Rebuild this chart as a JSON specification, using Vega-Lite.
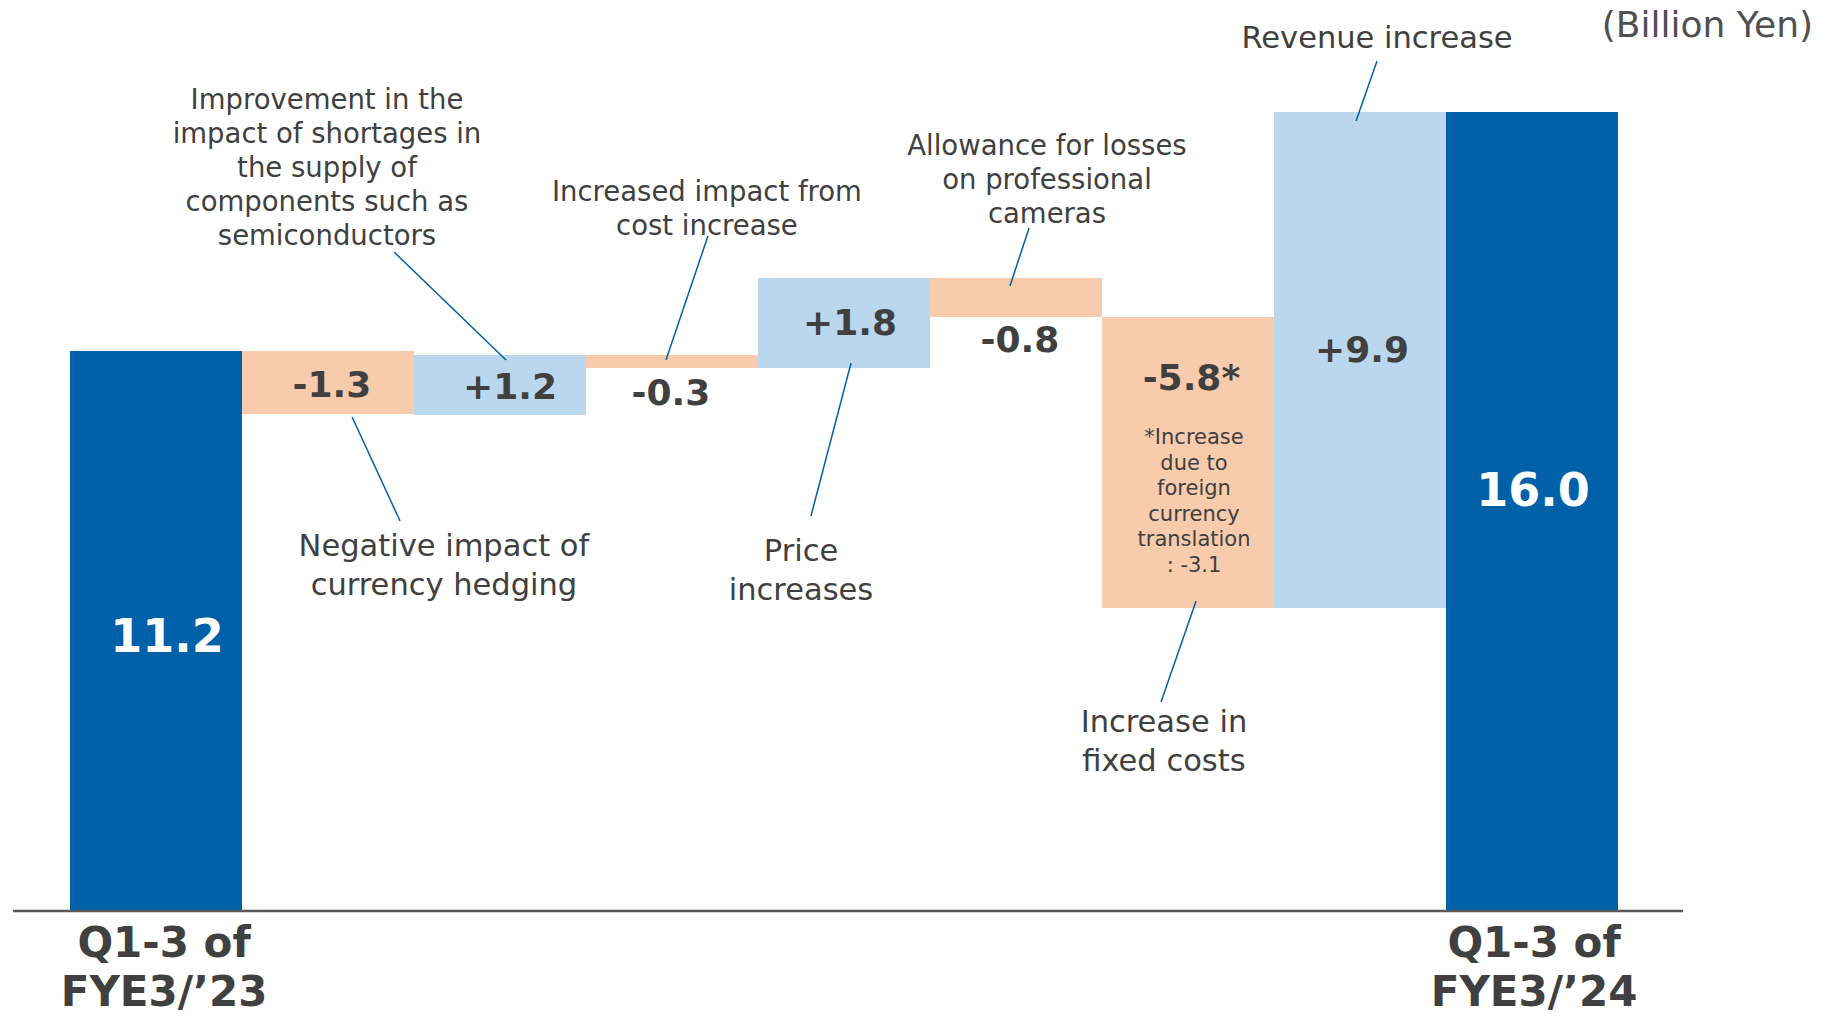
{
  "$schema": "https://vega.github.io/schema/vega-lite/v6.json",
  "width": 1832,
  "height": 1018,
  "padding": 0,
  "autosize": {"type": "none"},
  "background": "white",
  "config": {"view": {"stroke": null}, "font": "DejaVu Sans"},
  "datasets": {
    "bars": [
      {"item": "Q1-3 of FYE3/'23", "from": 0, "to": 1, "start": 0, "end": 11.2, "kind": "total"},
      {"item": "Negative impact of currency hedging", "from": 1, "to": 2, "start": 11.2, "end": 9.94, "kind": "decrease"},
      {"item": "Improvement in component shortages", "from": 2, "to": 3, "start": 9.92, "end": 11.12, "kind": "increase"},
      {"item": "Increased impact from cost increase", "from": 3, "to": 4, "start": 11.12, "end": 10.86, "kind": "decrease"},
      {"item": "Price increases", "from": 4, "to": 5, "start": 10.86, "end": 12.66, "kind": "increase"},
      {"item": "Allowance for losses on professional cameras", "from": 5, "to": 6, "start": 12.66, "end": 11.88, "kind": "decrease"},
      {"item": "Increase in fixed costs", "from": 6, "to": 7, "start": 11.88, "end": 6.06, "kind": "decrease"},
      {"item": "Revenue increase", "from": 7, "to": 8, "start": 6.06, "end": 15.98, "kind": "increase"},
      {"item": "Q1-3 of FYE3/'24", "from": 8, "to": 9, "start": 0, "end": 15.98, "kind": "total"}
    ],
    "deltas": [
      {"label": "-1.3", "px": 1.523, "py": 10.5},
      {"label": "+1.2", "px": 2.558, "py": 10.46},
      {"label": "-0.3", "px": 3.494, "py": 10.34},
      {"label": "+1.8", "px": 4.535, "py": 11.74},
      {"label": "-0.8", "px": 5.523, "py": 11.4},
      {"label": "-5.8*", "px": 6.52, "py": 10.64},
      {"label": "+9.9", "px": 7.512, "py": 11.2}
    ],
    "totals": [
      {"label": "11.2", "px": 0.564, "py": 5.46},
      {"label": "16.0", "px": 8.506, "py": 8.38}
    ],
    "notesTop": [
      {"label": "Improvement in the\nimpact of shortages in\nthe supply of\ncomponents such as\nsemiconductors", "px": 1.494, "py": 16.2},
      {"label": "Increased impact from\ncost increase", "px": 3.703, "py": 14.36},
      {"label": "Allowance for losses\non professional\ncameras", "px": 5.68, "py": 15.28}
    ],
    "notesBottom": [
      {"label": "Negative impact of\ncurrency hedging", "px": 2.174, "py": 7.28},
      {"label": "Price\nincreases", "px": 4.25, "py": 7.18},
      {"label": "Increase in\nfixed costs", "px": 6.36, "py": 3.76},
      {"label": "Revenue increase", "px": 7.599, "py": 17.45}
    ],
    "leaders": [
      {"x1": 1.884, "y1": 13.18, "x2": 2.535, "y2": 11.02},
      {"x1": 3.709, "y1": 13.5, "x2": 3.465, "y2": 11.02},
      {"x1": 1.64, "y1": 9.88, "x2": 1.919, "y2": 7.8},
      {"x1": 4.541, "y1": 10.96, "x2": 4.308, "y2": 7.9},
      {"x1": 5.576, "y1": 13.66, "x2": 5.465, "y2": 12.5},
      {"x1": 7.599, "y1": 17.0, "x2": 7.477, "y2": 15.8},
      {"x1": 6.547, "y1": 6.2, "x2": 6.343, "y2": 4.18}
    ],
    "footnote": [
      {"label": "*Increase\ndue to\nforeign\ncurrency\ntranslation\n: -3.1", "px": 6.535, "py": 9.46}
    ],
    "unit": [
      {"label": "(Billion Yen)", "px": 10.134, "py": 17.7}
    ],
    "categories": [
      {"label": "Q1-3 of\nFYE3/’23", "px": 0.547, "py": -0.66},
      {"label": "Q1-3 of\nFYE3/’24", "px": 8.512, "py": -0.66}
    ],
    "baseline": [
      {"x1": -0.331, "x2": 9.378, "y1": 0}
    ]
  },
  "layer": [
    {
      "data": {"name": "bars"},
      "mark": {"type": "bar"},
      "encoding": {
        "x": {"field": "from", "type": "quantitative", "scale": {"domain": [-0.40698, 10.24419], "nice": false, "zero": false}, "axis": null},
        "x2": {"field": "to"},
        "y": {"field": "start", "type": "quantitative", "scale": {"domain": [-2.14, 18.22], "nice": false, "zero": false}, "axis": null},
        "y2": {"field": "end"},
        "color": {"field": "kind", "type": "nominal", "scale": {"domain": ["total", "increase", "decrease"], "range": ["#0060A8", "#BAD7EE", "#F7CBAC"]}, "legend": null}
      }
    },
    {
      "data": {"name": "baseline"},
      "mark": {"type": "rule", "color": "#595959", "strokeWidth": 2.5},
      "encoding": {
        "x": {"field": "x1", "type": "quantitative", "scale": {"domain": [-0.40698, 10.24419], "nice": false, "zero": false}, "axis": null},
        "x2": {"field": "x2"},
        "y": {"field": "y1", "type": "quantitative", "scale": {"domain": [-2.14, 18.22], "nice": false, "zero": false}, "axis": null}
      }
    },
    {
      "data": {"name": "leaders"},
      "mark": {"type": "rule", "color": "#0060A8", "strokeWidth": 1.5},
      "encoding": {
        "x": {"field": "x1", "type": "quantitative", "scale": {"domain": [-0.40698, 10.24419], "nice": false, "zero": false}, "axis": null},
        "x2": {"field": "x2"},
        "y": {"field": "y1", "type": "quantitative", "scale": {"domain": [-2.14, 18.22], "nice": false, "zero": false}, "axis": null},
        "y2": {"field": "y2"}
      }
    },
    {
      "data": {"name": "deltas"},
      "mark": {"type": "text", "font": "DejaVu Sans", "fontWeight": "bold", "fontSize": 36, "color": "#404040", "align": "center", "baseline": "middle"},
      "encoding": {
        "x": {"field": "px", "type": "quantitative", "scale": {"domain": [-0.40698, 10.24419], "nice": false, "zero": false}, "axis": null},
        "y": {"field": "py", "type": "quantitative", "scale": {"domain": [-2.14, 18.22], "nice": false, "zero": false}, "axis": null},
        "text": {"field": "label", "type": "nominal"}
      }
    },
    {
      "data": {"name": "totals"},
      "mark": {"type": "text", "font": "DejaVu Sans", "fontWeight": "bold", "fontSize": 46, "color": "#FFFFFF", "align": "center", "baseline": "middle"},
      "encoding": {
        "x": {"field": "px", "type": "quantitative", "scale": {"domain": [-0.40698, 10.24419], "nice": false, "zero": false}, "axis": null},
        "y": {"field": "py", "type": "quantitative", "scale": {"domain": [-2.14, 18.22], "nice": false, "zero": false}, "axis": null},
        "text": {"field": "label", "type": "nominal"}
      }
    },
    {
      "data": {"name": "notesTop"},
      "mark": {"type": "text", "font": "DejaVu Sans", "fontSize": 27.5, "lineHeight": 34, "lineBreak": "\n", "color": "#404040", "align": "center", "baseline": "middle"},
      "encoding": {
        "x": {"field": "px", "type": "quantitative", "scale": {"domain": [-0.40698, 10.24419], "nice": false, "zero": false}, "axis": null},
        "y": {"field": "py", "type": "quantitative", "scale": {"domain": [-2.14, 18.22], "nice": false, "zero": false}, "axis": null},
        "text": {"field": "label", "type": "nominal"}
      }
    },
    {
      "data": {"name": "notesBottom"},
      "mark": {"type": "text", "font": "DejaVu Sans", "fontSize": 30.5, "lineHeight": 39, "lineBreak": "\n", "color": "#404040", "align": "center", "baseline": "middle"},
      "encoding": {
        "x": {"field": "px", "type": "quantitative", "scale": {"domain": [-0.40698, 10.24419], "nice": false, "zero": false}, "axis": null},
        "y": {"field": "py", "type": "quantitative", "scale": {"domain": [-2.14, 18.22], "nice": false, "zero": false}, "axis": null},
        "text": {"field": "label", "type": "nominal"}
      }
    },
    {
      "data": {"name": "footnote"},
      "mark": {"type": "text", "font": "DejaVu Sans", "fontSize": 21, "lineHeight": 25.6, "lineBreak": "\n", "color": "#404040", "align": "center", "baseline": "middle"},
      "encoding": {
        "x": {"field": "px", "type": "quantitative", "scale": {"domain": [-0.40698, 10.24419], "nice": false, "zero": false}, "axis": null},
        "y": {"field": "py", "type": "quantitative", "scale": {"domain": [-2.14, 18.22], "nice": false, "zero": false}, "axis": null},
        "text": {"field": "label", "type": "nominal"}
      }
    },
    {
      "data": {"name": "unit"},
      "mark": {"type": "text", "font": "DejaVu Sans", "fontSize": 36, "color": "#505050", "align": "right", "baseline": "middle"},
      "encoding": {
        "x": {"field": "px", "type": "quantitative", "scale": {"domain": [-0.40698, 10.24419], "nice": false, "zero": false}, "axis": null},
        "y": {"field": "py", "type": "quantitative", "scale": {"domain": [-2.14, 18.22], "nice": false, "zero": false}, "axis": null},
        "text": {"field": "label", "type": "nominal"}
      }
    },
    {
      "data": {"name": "categories"},
      "mark": {"type": "text", "font": "DejaVu Sans", "fontWeight": "bold", "fontSize": 42, "lineHeight": 49, "lineBreak": "\n", "color": "#404040", "align": "center", "baseline": "middle"},
      "encoding": {
        "x": {"field": "px", "type": "quantitative", "scale": {"domain": [-0.40698, 10.24419], "nice": false, "zero": false}, "axis": null},
        "y": {"field": "py", "type": "quantitative", "scale": {"domain": [-2.14, 18.22], "nice": false, "zero": false}, "axis": null},
        "text": {"field": "label", "type": "nominal"}
      }
    }
  ]
}
